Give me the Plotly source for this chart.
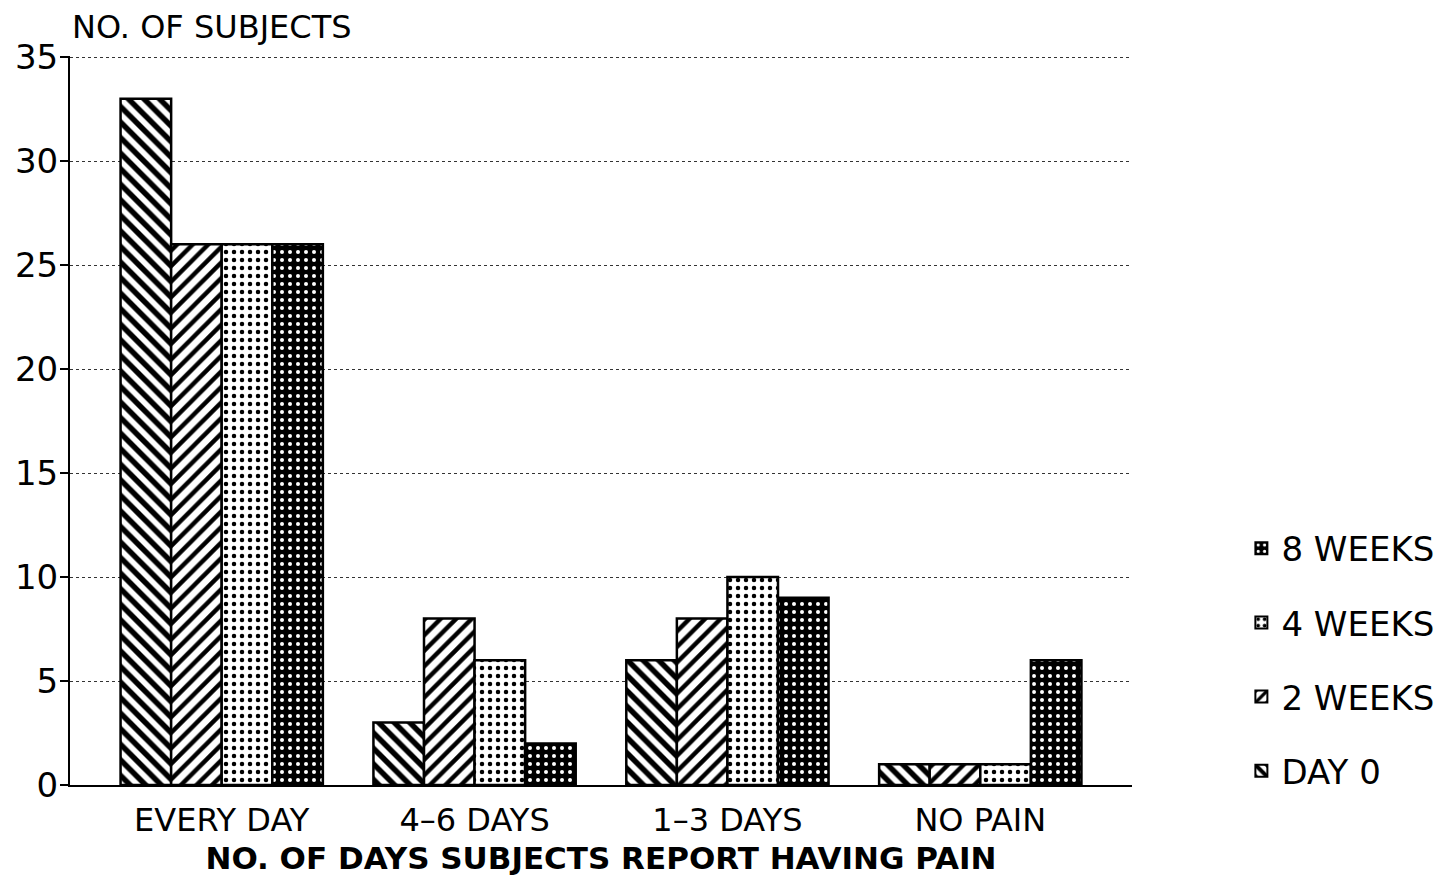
import plotly.graph_objects as go

categories = ["EVERY DAY", "4\u20136 DAYS", "1\u20133 DAYS", "NO PAIN"]
series_names = ["DAY 0", "2 WEEKS", "4 WEEKS", "8 WEEKS"]
day0 = [33, 3, 6, 1]
weeks2 = [26, 8, 8, 1]
weeks4 = [26, 6, 10, 1]
weeks8 = [26, 2, 9, 6]
y_ticks = [0, 5, 10, 15, 20, 25, 30, 35]

values = [day0, weeks2, weeks4, weeks8]
patterns = [
    dict(shape="\\", fgcolor="black", bgcolor="white", fgopacity=1, size=11, solidity=0.5),
    dict(shape="/", fgcolor="black", bgcolor="white", fgopacity=1, size=11, solidity=0.4),
    dict(shape=".", fgcolor="black", bgcolor="white", fgopacity=1, size=8, solidity=0.25),
    dict(shape=".", fgcolor="white", bgcolor="black", fgopacity=1, size=8, solidity=0.2),
]

fig = go.Figure()
for i, (name, vals, pat) in enumerate(zip(series_names, values, patterns)):
    fig.add_trace(go.Bar(
        x=categories, y=vals, name=name, legendgroup=name,
        legendrank=1000 - i,
        marker=dict(color="black", pattern=pat, line=dict(color="black", width=2.5)),
    ))

font = "DejaVu Sans, Verdana, sans-serif"
fig.update_layout(
    width=1444, height=886,
    paper_bgcolor="white", plot_bgcolor="white",
    barmode="group", bargap=0.2, bargroupgap=0,
    margin=dict(l=62, r=320, t=48, b=109, autoexpand=False),
    font=dict(family=font, color="black", size=26),
    showlegend=True,
    legend=dict(
        traceorder="grouped", x=1.103, xanchor="left", y=0.172, yanchor="middle",
        font=dict(size=34), itemsizing="constant", tracegroupgap=27,
        bgcolor="rgba(0,0,0,0)",
    ),
    xaxis=dict(
        range=[-0.6, 3.6], showline=True, linecolor="black", linewidth=2,
        ticks="", tickfont=dict(size=32), showgrid=False, ticklabelstandoff=6,
        title=dict(text="<b>NO. OF DAYS SUBJECTS REPORT HAVING PAIN</b>", font=dict(size=31), standoff=9),
    ),
    yaxis=dict(
        range=[0, 35.05], tickvals=y_ticks, showline=True, linecolor="black", linewidth=2,
        ticks="outside", ticklen=8, tickwidth=2, tickcolor="black", ticklabelstandoff=-5,
        tickfont=dict(size=34), showgrid=True, gridcolor="#333", griddash="dot", gridwidth=1.2,
        zeroline=False,
    ),
    annotations=[dict(
        text="NO. OF SUBJECTS", xref="paper", yref="paper", x=0, y=1, xshift=0, yshift=8,
        xanchor="left", yanchor="bottom", showarrow=False, font=dict(size=32),
    )],
)

fig.write_html("out.html")
